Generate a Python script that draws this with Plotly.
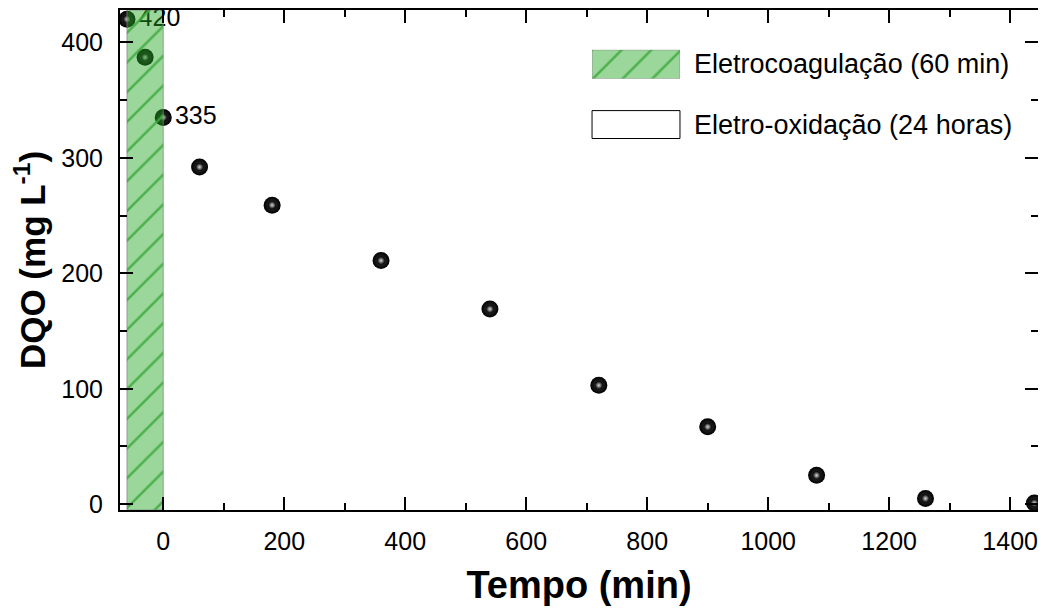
import plotly.graph_objects as go

# ---- data ----
time_min = [-60, -30, 0, 60, 180, 360, 540, 720, 900, 1080, 1260, 1440]
dqo = [420, 387, 335, 292, 259, 211, 169, 103, 67, 25, 5, 1]
point_labels = ["420", "", "335", "", "", "", "", "", "", "", "", ""]
ec_start, ec_end = -60, 0
x_range = [-71.5, 1446]
y_range = [-5, 428]
x_ticks = [0, 200, 400, 600, 800, 1000, 1200, 1400]
y_ticks = [0, 100, 200, 300, 400]
legend_labels = ["Eletrocoagulação (60 min)", "Eletro-oxidação (24 horas)"]

FONT = "Liberation Sans, Arial, sans-serif"
green_bg = "rgba(33,164,33,0.45)"
green_fg = "rgba(60,170,60,0.85)"
pattern = dict(shape="/", bgcolor=green_bg, fgcolor=green_fg, size=21,
               solidity=0.12, fillmode="replace")

fig = go.Figure()

# data points: black spheres with a soft highlight
fig.add_trace(go.Scatter(
    x=time_min, y=dqo, mode="markers+text", text=point_labels,
    textposition="middle right", textfont=dict(family=FONT, size=25, color="black"),
    marker=dict(size=17, color="black",
                gradient=dict(type="radial", color="#3a3a3a"),
                line=dict(width=0)),
    showlegend=False, cliponaxis=False, hoverinfo="x+y"))
fig.add_trace(go.Scatter(
    x=time_min, y=dqo, mode="markers",
    marker=dict(size=8, color="black",
                gradient=dict(type="radial", color="#d8d8d8"),
                line=dict(width=0)),
    showlegend=False, cliponaxis=False, hoverinfo="skip"))

# electrocoagulation period (hatched band), drawn over the points
fig.add_trace(go.Scatter(
    x=[ec_start, ec_end, ec_end, ec_start, ec_start],
    y=[y_range[0], y_range[0], y_range[1], y_range[1], y_range[0]],
    mode="lines", fill="toself", fillcolor=green_bg, fillpattern=pattern,
    line=dict(color="rgba(130,130,130,0.7)", width=1),
    showlegend=False, hoverinfo="skip"))

# legend swatch (hatched) on a small helper axis
sw_x = [0.5142, 0.6100]
sw1_y = [0.8625, 0.9203]
sw2_y = [0.7430, 0.7988]
fig.add_trace(go.Scatter(
    x=[0, 1, 1, 0, 0], y=[0, 0, 1, 1, 0], xaxis="x2", yaxis="y2",
    mode="lines", fill="toself", fillcolor=green_bg, fillpattern=pattern,
    line=dict(color="rgba(130,130,130,0.7)", width=1),
    showlegend=False, hoverinfo="skip"))

fig.add_shape(type="rect", xref="paper", yref="paper",
              x0=sw_x[0], x1=sw_x[1], y0=sw2_y[0], y1=sw2_y[1],
              line=dict(color="black", width=1), fillcolor="white")

for lab, yy in zip(legend_labels, [sum(sw1_y) / 2, sum(sw2_y) / 2]):
    fig.add_annotation(xref="paper", yref="paper", x=0.623, y=yy,
                       text=lab, showarrow=False, xanchor="left", yanchor="middle",
                       font=dict(family=FONT, size=27, color="black"))

axis_common = dict(
    showline=True, linecolor="black", linewidth=2, mirror="ticks",
    ticks="inside", ticklen=13, tickwidth=1.5, tickcolor="black",
    showgrid=False, zeroline=False,
    tickfont=dict(family=FONT, size=25, color="black"),
)

fig.update_layout(
    width=1038, height=605,
    margin=dict(l=112, r=8, t=0, b=103),
    paper_bgcolor="white", plot_bgcolor="white",
    xaxis=dict(range=x_range, tickvals=x_ticks, ticklabelstandoff=8,
               minor=dict(ticks="inside", ticklen=7, tickwidth=1.5, dtick=100,
                          tick0=0, tickcolor="black", showgrid=False),
               title=dict(text="<b>Tempo (min)</b>", standoff=17,
                          font=dict(family=FONT, size=38, color="black")),
               **axis_common),
    yaxis=dict(range=y_range, tickvals=y_ticks, ticklabelstandoff=10,
               minor=dict(ticks="inside", ticklen=7, tickwidth=1.5, dtick=50,
                          tick0=0, tickcolor="black", showgrid=False),
               title=dict(text="<b>DQO (mg L<sup>-1</sup>)</b>", standoff=12,
                          font=dict(family=FONT, size=35, color="black")),
               **axis_common),
    xaxis2=dict(domain=sw_x, range=[0, 1], visible=False, fixedrange=True, anchor="y2"),
    yaxis2=dict(domain=sw1_y, range=[0, 1], visible=False, fixedrange=True, anchor="x2"),
    showlegend=False,
)

fig.write_html("out.html")
